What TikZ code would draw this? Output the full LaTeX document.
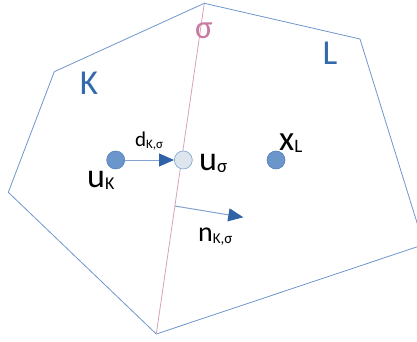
\documentclass[tikz,border=0pt]{standalone}
\usepackage{fontspec}
\setmainfont{Carlito}
\usepackage{tikz}
\usetikzlibrary{positioning,arrows.meta,calc}
\definecolor{cellblue}{RGB}{111,150,204}
\definecolor{dotblue}{RGB}{106,150,204}
\definecolor{dotedge}{RGB}{84,128,186}
\definecolor{facefill}{RGB}{221,229,239}
\definecolor{faceedge}{RGB}{127,163,208}
\definecolor{arrowblue}{RGB}{47,98,166}
\definecolor{linkblue}{RGB}{130,162,208}
\definecolor{edgepink}{RGB}{214,162,186}
\definecolor{sigmapink}{RGB}{200,122,160}
\definecolor{namblue}{RGB}{52,106,172}
\newcommand{\symb}[4]{{\fontsize{#3}{#3}\selectfont #1}\raisebox{-2pt}{\fontsize{#4}{#4}\selectfont #2}}

\begin{document}
\begin{tikzpicture}[
  x=1pt, y=-1pt,
  every node/.style={inner sep=0pt},
  cell/.style={draw=cellblue, line width=0.8pt, line join=round},
  face/.style={draw=edgepink, line width=0.8pt},
  unknown/.style={circle, fill=dotblue, draw=dotedge, line width=0.6pt, minimum size=18pt},
  faceval/.style={circle, fill=facefill, draw=faceedge, line width=0.6pt, minimum size=18pt},
  normal/.style={-{Triangle[length=15pt,width=13pt,color=arrowblue]}, draw=linkblue, line width=1pt},
  cellname/.style={text=namblue, font=\fontsize{35}{35}\selectfont},
  lbl/.style={anchor=base west, text=black}
]
  \useasboundingbox (0,0) rectangle (417,342);
  \clip (0,0) rectangle (417,342);

  \coordinate (A) at (204.3,3.3);
  \coordinate (B) at (54.3,71.7);
  \coordinate (C) at (8.3,192.3);
  \coordinate (D) at (156.3,334);
  \coordinate (E) at (423.8,244.6);
  \coordinate (G) at (360,39);

  \draw[cell] (A) -- (B) -- (C) -- (D) -- (E) -- (G) -- cycle;
  \draw[face] (A) -- (D);

  \node[cellname, anchor=base] (Kname) at (89,94.3) {K};
  \node[cellname, anchor=base] (Lname) at (330,64.3) {L};
  \node[anchor=base, text=sigmapink, font=\fontsize{33}{33}\selectfont] (sname) at (204,39) {σ};

  \node[unknown] (uK) at (115.7,160) {};
  \node[faceval] (us) at (183.3,160) {};
  \node[unknown] (xL) at (276,160) {};

  \draw[normal] (uK) -- (us);

  \coordinate (nb) at ($(A)!0.613!(D)$);
  \coordinate (nt) at (243.3,217.3);
  \draw[normal] (nb) -- (nt);

  \node[lbl] (uKlab) at (87,187) {\symb{u}{K}{34}{18}};
  \node[lbl] (uslab) at (199,170) {\symb{u}{σ}{34}{19}};
  \node[lbl] (xLlab) at (279,150) {\symb{x}{L}{35}{19}};
  \node[lbl] (dlab) at (135,146) {\symb{d}{K,σ}{21}{13}};
  \node[lbl] (nlab) at (198,241) {\symb{n}{K,σ}{28}{15}};
\end{tikzpicture}
\end{document}
